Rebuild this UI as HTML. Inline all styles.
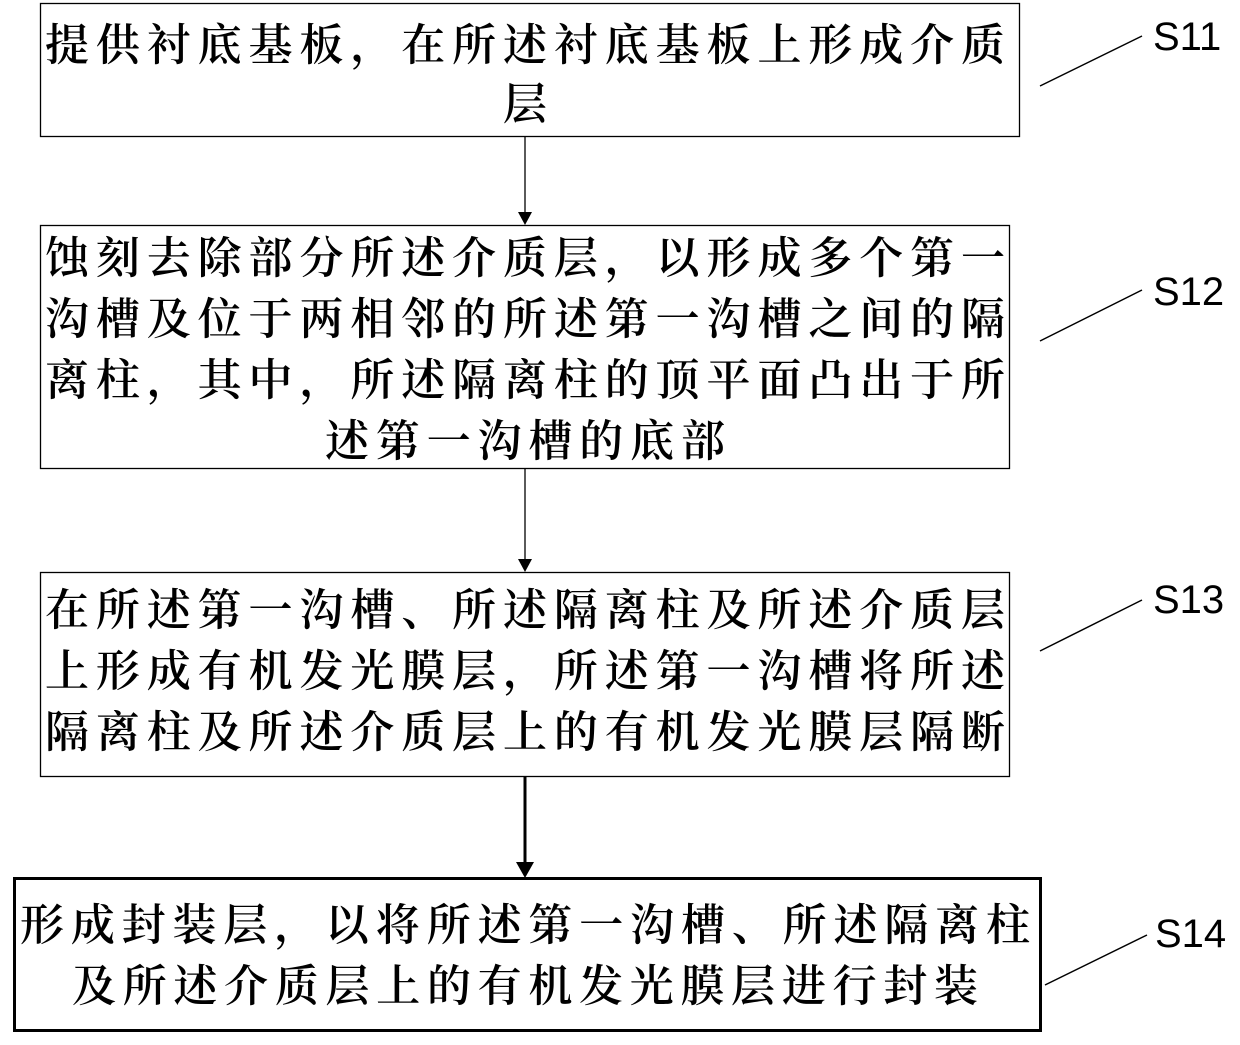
<!DOCTYPE html>
<html><head><meta charset="utf-8"><style>
html,body{margin:0;padding:0;background:#fff;}
svg{display:block}
.t{font-family:"Noto Serif CJK SC","Noto Sans CJK SC",serif;font-size:44px;font-weight:600;fill:#000}
.s{font-family:"Liberation Sans",sans-serif;font-size:40px;fill:#000}
</style></head><body>
<svg width="1240" height="1045" viewBox="0 0 1240 1045" xmlns="http://www.w3.org/2000/svg">
<g fill="none" stroke="#000">
<rect x="40.5" y="3.5" width="979" height="133" stroke-width="1.3"/>
<rect x="40.5" y="225.5" width="969" height="243" stroke-width="1.3"/>
<rect x="40.5" y="572.5" width="969" height="204" stroke-width="1.3"/>
<rect x="14.5" y="878.5" width="1026" height="152" stroke-width="3"/>
<line x1="525" y1="137" x2="525" y2="214" stroke-width="1.3"/>
<line x1="525" y1="469" x2="525" y2="561" stroke-width="1.3"/>
<line x1="525" y1="777" x2="525" y2="864" stroke-width="3"/>
<line x1="1040" y1="86" x2="1142" y2="36" stroke-width="1.5"/>
<line x1="1040" y1="341" x2="1142" y2="290" stroke-width="1.5"/>
<line x1="1040" y1="651" x2="1142" y2="600" stroke-width="1.5"/>
<line x1="1045" y1="985" x2="1147" y2="935" stroke-width="1.5"/>
</g>
<g fill="#000">
<polygon points="518,212 532,212 525,225"/>
<polygon points="518,559 532,559 525,572"/>
<polygon points="516,862 534,862 525,878"/>
</g>
<g class="t">
<text x="45" y="60" textLength="960" lengthAdjust="spacing">提供衬底基板，在所述衬底基板上形成介质</text>
<text x="503" y="119">层</text>
<text x="45" y="273" textLength="960" lengthAdjust="spacing">蚀刻去除部分所述介质层，以形成多个第一</text>
<text x="45" y="334" textLength="960" lengthAdjust="spacing">沟槽及位于两相邻的所述第一沟槽之间的隔</text>
<text x="45" y="395" textLength="960" lengthAdjust="spacing">离柱，其中，所述隔离柱的顶平面凸出于所</text>
<text x="325" y="456" textLength="400" lengthAdjust="spacing">述第一沟槽的底部</text>
<text x="45" y="625" textLength="960" lengthAdjust="spacing">在所述第一沟槽、所述隔离柱及所述介质层</text>
<text x="45" y="686" textLength="960" lengthAdjust="spacing">上形成有机发光膜层，所述第一沟槽将所述</text>
<text x="45" y="747" textLength="960" lengthAdjust="spacing">隔离柱及所述介质层上的有机发光膜层隔断</text>
<text x="20" y="940" textLength="1010" lengthAdjust="spacing">形成封装层，以将所述第一沟槽、所述隔离柱</text>
<text x="72" y="1001" textLength="906" lengthAdjust="spacing">及所述介质层上的有机发光膜层进行封装</text>
</g>
<g class="s">
<text x="1153" y="50">S11</text>
<text x="1153" y="305">S12</text>
<text x="1153" y="613">S13</text>
<text x="1155" y="947">S14</text>
</g>
</svg>
</body></html>
